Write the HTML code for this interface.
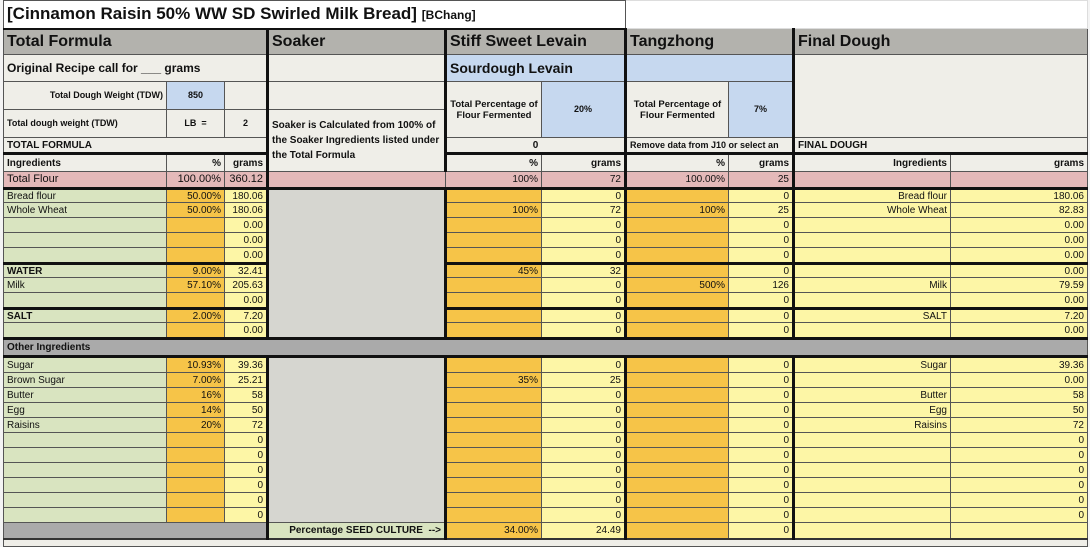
<!DOCTYPE html>
<html><head><meta charset="utf-8"><style>
body{margin:0;width:1090px;height:540px;overflow:hidden;background:#f4f4f4;font-family:"Liberation Sans",sans-serif;}
table{position:absolute;left:3px;top:0;border-collapse:collapse;table-layout:fixed;font-size:10px;}
td{border:1px solid #555;padding:0 3px;overflow:hidden;white-space:nowrap;color:#111;line-height:11px;}
.r{text-align:right}.c{text-align:center}.b{font-weight:bold}
.bg{background:#efeee8}.bl{background:#c6d8ef}.pk{background:#e4b9b9}.gr{background:#d9e4c0}
.or{background:#f6c448}.ye{background:#fdf6a6}.sg{background:#d6d6d0}.dg{background:#aaaaaa}
.h{font-size:16px;font-weight:bold;background:#b3b2ad;line-height:20px}
.t2{border-top:3px solid #111}.L{border-left:3px solid #111}
tr.d td{height:14px;padding-top:0;padding-bottom:0}
tr.d.k td{height:12px}
</style></head><body>
<table>
<colgroup><col style="width:163px"><col style="width:58px"><col style="width:43px"><col style="width:178px"><col style="width:96px"><col style="width:84px"><col style="width:103px"><col style="width:65px"><col style="width:157px"><col style="width:137px"></colgroup>
<tr style="height:28px"><td colspan="6" style="background:#fff;font-size:17px;font-weight:bold;border-bottom:2px solid #111">[Cinnamon Raisin 50% WW SD Swirled Milk Bread] <span style="font-size:12px">[BChang]</span></td><td colspan="4" style="background:#fff;border-color:#ddd"></td></tr>
<tr style="height:26px"><td colspan="3" class="h">Total Formula</td><td class="h L">Soaker</td><td colspan="2" class="h L">Stiff Sweet Levain</td><td colspan="2" class="h L">Tangzhong</td><td colspan="2" class="h L">Final Dough</td></tr>
<tr style="height:27px"><td colspan="3" class="bg b" style="font-size:12px">Original Recipe call for ___ grams</td><td class="bg L"></td><td colspan="2" class="bl L b" style="font-size:14px">Sourdough Levain</td><td colspan="2" class="bl L"></td><td colspan="2" rowspan="3" class="bg L"></td></tr>
<tr style="height:28px"><td class="bg r b" style="font-size:9px">Total Dough Weight (TDW)</td><td class="bl c b" style="font-size:9px">850</td><td class="bg"></td><td class="bg L"></td><td rowspan="2" class="bg c b L" style="white-space:normal;font-size:9.5px;padding:0 1px">Total Percentage of Flour Fermented</td><td rowspan="2" class="bl c b" style="font-size:9px">20%</td><td rowspan="2" class="bg c b L" style="white-space:normal;font-size:9.5px;padding:0 1px">Total Percentage of Flour Fermented</td><td rowspan="2" class="bl c b" style="font-size:9px">7%</td></tr>
<tr style="height:28px"><td class="bg b" style="font-size:9px">Total dough weight (TDW)</td><td class="bg c b" style="font-size:9px">LB &nbsp;=</td><td class="bg c b" style="font-size:9px">2</td><td rowspan="3" class="bg b L" style="white-space:normal;font-size:10px;line-height:15px;vertical-align:top;padding-top:8px">Soaker is Calculated from 100% of the Soaker Ingredients listed under the Total Formula</td></tr>
<tr style="height:16px"><td colspan="3" class="bg b">TOTAL FORMULA</td><td colspan="2" class="bg c b L">0</td><td colspan="2" class="bg b L" style="font-size:9px">Remove data from J10 or select an</td><td colspan="2" class="bg b L">FINAL DOUGH</td></tr>
<tr style="height:18px"><td class="bg b t2">Ingredients</td><td class="bg r b t2">%</td><td class="bg r b t2">grams</td><td class="bg r b L t2">%</td><td class="bg r b t2">grams</td><td class="bg r b L t2">%</td><td class="bg r b t2">grams</td><td class="bg r b L t2">Ingredients</td><td class="bg r b t2">grams</td></tr>
<tr style="height:17px"><td class="pk" style="font-size:11px">Total Flour</td><td class="pk r" style="font-size:11px">100.00%</td><td class="pk r" style="font-size:11px">360.12</td><td class="pk L"></td><td class="pk r">100%</td><td class="pk r">72</td><td class="pk r L">100.00%</td><td class="pk r">25</td><td class="pk L"></td><td class="pk"></td></tr>
<tr class="d k"><td class="gr t2">Bread flour</td><td class="or r t2">50.00%</td><td class="ye r t2">180.06</td><td rowspan="10" class="sg L t2"></td><td class="or L t2"></td><td class="ye r t2">0</td><td class="or L t2"></td><td class="ye r t2">0</td><td class="ye r L t2">Bread flour</td><td class="ye r t2">180.06</td></tr>
<tr class="d"><td class="gr">Whole Wheat</td><td class="or r">50.00%</td><td class="ye r">180.06</td><td class="or r L">100%</td><td class="ye r">72</td><td class="or r L">100%</td><td class="ye r">25</td><td class="ye r L">Whole Wheat</td><td class="ye r">82.83</td></tr>
<tr class="d"><td class="gr"></td><td class="or"></td><td class="ye r">0.00</td><td class="or L"></td><td class="ye r">0</td><td class="or L"></td><td class="ye r">0</td><td class="ye L"></td><td class="ye r">0.00</td></tr>
<tr class="d"><td class="gr"></td><td class="or"></td><td class="ye r">0.00</td><td class="or L"></td><td class="ye r">0</td><td class="or L"></td><td class="ye r">0</td><td class="ye L"></td><td class="ye r">0.00</td></tr>
<tr class="d"><td class="gr"></td><td class="or"></td><td class="ye r">0.00</td><td class="or L"></td><td class="ye r">0</td><td class="or L"></td><td class="ye r">0</td><td class="ye L"></td><td class="ye r">0.00</td></tr>
<tr class="d k"><td class="gr b t2">WATER</td><td class="or r t2">9.00%</td><td class="ye r t2">32.41</td><td class="or r L t2">45%</td><td class="ye r t2">32</td><td class="or L t2"></td><td class="ye r t2">0</td><td class="ye L t2"></td><td class="ye r t2">0.00</td></tr>
<tr class="d"><td class="gr">Milk</td><td class="or r">57.10%</td><td class="ye r">205.63</td><td class="or L"></td><td class="ye r">0</td><td class="or r L">500%</td><td class="ye r">126</td><td class="ye r L">Milk</td><td class="ye r">79.59</td></tr>
<tr class="d"><td class="gr"></td><td class="or"></td><td class="ye r">0.00</td><td class="or L"></td><td class="ye r">0</td><td class="or L"></td><td class="ye r">0</td><td class="ye L"></td><td class="ye r">0.00</td></tr>
<tr class="d k"><td class="gr b t2">SALT</td><td class="or r t2">2.00%</td><td class="ye r t2">7.20</td><td class="or L t2"></td><td class="ye r t2">0</td><td class="or L t2"></td><td class="ye r t2">0</td><td class="ye r L t2">SALT</td><td class="ye r t2">7.20</td></tr>
<tr class="d"><td class="gr"></td><td class="or"></td><td class="ye r">0.00</td><td class="or L"></td><td class="ye r">0</td><td class="or L"></td><td class="ye r">0</td><td class="ye L"></td><td class="ye r">0.00</td></tr>
<tr style="height:18px"><td colspan="10" class="dg b t2" style="border-bottom:3px solid #111">Other Ingredients</td></tr>
<tr class="d"><td class="gr">Sugar</td><td class="or r">10.93%</td><td class="ye r">39.36</td><td rowspan="11" class="sg L"></td><td class="or L"></td><td class="ye r">0</td><td class="or L"></td><td class="ye r">0</td><td class="ye r L">Sugar</td><td class="ye r">39.36</td></tr>
<tr class="d"><td class="gr">Brown Sugar</td><td class="or r">7.00%</td><td class="ye r">25.21</td><td class="or r L">35%</td><td class="ye r">25</td><td class="or L"></td><td class="ye r">0</td><td class="ye L"></td><td class="ye r">0.00</td></tr>
<tr class="d"><td class="gr">Butter</td><td class="or r">16%</td><td class="ye r">58</td><td class="or L"></td><td class="ye r">0</td><td class="or L"></td><td class="ye r">0</td><td class="ye r L">Butter</td><td class="ye r">58</td></tr>
<tr class="d"><td class="gr">Egg</td><td class="or r">14%</td><td class="ye r">50</td><td class="or L"></td><td class="ye r">0</td><td class="or L"></td><td class="ye r">0</td><td class="ye r L">Egg</td><td class="ye r">50</td></tr>
<tr class="d"><td class="gr">Raisins</td><td class="or r">20%</td><td class="ye r">72</td><td class="or L"></td><td class="ye r">0</td><td class="or L"></td><td class="ye r">0</td><td class="ye r L">Raisins</td><td class="ye r">72</td></tr>
<tr class="d"><td class="gr"></td><td class="or"></td><td class="ye r">0</td><td class="or L"></td><td class="ye r">0</td><td class="or L"></td><td class="ye r">0</td><td class="ye L"></td><td class="ye r">0</td></tr>
<tr class="d"><td class="gr"></td><td class="or"></td><td class="ye r">0</td><td class="or L"></td><td class="ye r">0</td><td class="or L"></td><td class="ye r">0</td><td class="ye L"></td><td class="ye r">0</td></tr>
<tr class="d"><td class="gr"></td><td class="or"></td><td class="ye r">0</td><td class="or L"></td><td class="ye r">0</td><td class="or L"></td><td class="ye r">0</td><td class="ye L"></td><td class="ye r">0</td></tr>
<tr class="d"><td class="gr"></td><td class="or"></td><td class="ye r">0</td><td class="or L"></td><td class="ye r">0</td><td class="or L"></td><td class="ye r">0</td><td class="ye L"></td><td class="ye r">0</td></tr>
<tr class="d"><td class="gr"></td><td class="or"></td><td class="ye r">0</td><td class="or L"></td><td class="ye r">0</td><td class="or L"></td><td class="ye r">0</td><td class="ye L"></td><td class="ye r">0</td></tr>
<tr class="d"><td class="gr"></td><td class="or"></td><td class="ye r">0</td><td class="or L"></td><td class="ye r">0</td><td class="or L"></td><td class="ye r">0</td><td class="ye L"></td><td class="ye r">0</td></tr>
<tr style="height:16px"><td colspan="3" class="dg"></td><td class="gr r b L" style="font-size:10px">Percentage SEED CULTURE &nbsp;--&gt;</td><td class="or r L">34.00%</td><td class="ye r">24.49</td><td class="or L"></td><td class="ye r">0</td><td class="ye L"></td><td class="ye"></td></tr>
<tr style="height:8px"><td colspan="10" class="bg" style="border-top:2px solid #333"></td></tr>
</table>
</body></html>
